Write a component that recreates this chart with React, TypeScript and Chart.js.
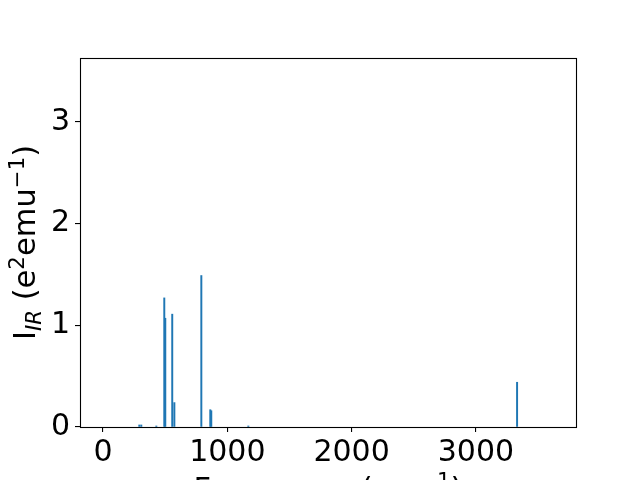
import React, { useEffect, useRef } from "react";
import { Chart, registerables } from "chart.js";

Chart.register(...registerables);

const frequencies = [292, 308, 429, 493, 501, 557, 574, 791, 863, 871, 1169, 3331];
const intensities = [0.02, 0.02, 0.01, 1.27, 1.07, 1.11, 0.24, 1.49, 0.17, 0.16, 0.01, 0.44];
const xTicks = [0, 1000, 2000, 3000];
const yTicks = [0, 1, 2, 3];
const xRange = [-185, 3805];
const yRange = [0, 3.63];

const FONT = "DejaVu Sans";
const FS = 30;
const LFS = 30.5;

type Seg = { t: string; s?: number; dy?: number; it?: boolean };

function drawRich(ctx: CanvasRenderingContext2D, segs: Seg[], size: number) {
  let total = 0;
  const ws = segs.map((g) => {
    ctx.font = `${g.it ? "italic " : ""}${size * (g.s || 1)}px "${FONT}"`;
    const w = ctx.measureText(g.t).width;
    total += w;
    return w;
  });
  let x = -total / 2;
  segs.forEach((g, i) => {
    ctx.font = `${g.it ? "italic " : ""}${size * (g.s || 1)}px "${FONT}"`;
    ctx.fillText(g.t, x, (g.dy || 0) * size);
    x += ws[i];
  });
}

const decor = {
  id: "decor",
  afterDraw(chart: any) {
    const { ctx, chartArea } = chart;
    ctx.save();
    ctx.strokeStyle = "#000";
    ctx.lineWidth = 1.1;
    ctx.strokeRect(
      Math.round(chartArea.left) + 0.5,
      Math.round(chartArea.top) + 0.5,
      Math.round(chartArea.right - chartArea.left),
      Math.round(chartArea.bottom - chartArea.top)
    );
    ctx.fillStyle = "#000";
    ctx.textBaseline = "alphabetic";
    ctx.textAlign = "left";
    ctx.save();
    ctx.translate((chartArea.left + chartArea.right) / 2, chartArea.bottom + 72);
    drawRich(
      ctx,
      [
        { t: "Frequency (cm" },
        { t: "−1", s: 0.7, dy: -0.36 },
        { t: ")" },
      ],
      LFS
    );
    ctx.restore();
    ctx.save();
    ctx.translate(35, (chartArea.top + chartArea.bottom) / 2);
    ctx.rotate(-Math.PI / 2);
    drawRich(
      ctx,
      [
        { t: "I" },
        { t: "IR", s: 0.7, dy: 0.2, it: true },
        { t: " (e" },
        { t: "2", s: 0.7, dy: -0.36 },
        { t: "emu" },
        { t: "−1", s: 0.7, dy: -0.36 },
        { t: ")" },
      ],
      LFS
    );
    ctx.restore();
    ctx.restore();
  },
};

export default function App() {
  const ref = useRef<HTMLCanvasElement>(null);
  useEffect(() => {
    document.body.style.margin = "0";
    const chart = new Chart(ref.current!, {
      type: "bar",
      data: {
        datasets: [
          {
            data: frequencies.map((f, i) => ({ x: f, y: intensities[i] })),
            backgroundColor: "#1f77b4",
            borderWidth: 0,
            barThickness: 1.3,
          },
        ],
      },
      options: {
        animation: false,
        responsive: false,
        devicePixelRatio: 1,
        layout: { padding: { top: 58, right: 64, left: 0, bottom: 0 } },
        plugins: { legend: { display: false }, tooltip: { enabled: false } },
        scales: {
          x: {
            type: "linear",
            min: xRange[0],
            max: xRange[1],
            offset: false,
            afterBuildTicks: (s: any) => {
              s.ticks = xTicks.map((v) => ({ value: v }));
            },
            afterFit: (s: any) => {
              s.height = 53;
            },
            grid: {
              offset: false,
              drawOnChartArea: false,
              drawTicks: true,
              tickLength: 5,
              tickColor: "#000",
              lineWidth: 1.1,
            },
            border: { display: false },
            ticks: {
              color: "#000",
              font: { family: FONT, size: FS },
              padding: 3,
              maxRotation: 0,
              autoSkip: false,
              callback: (v: any) => String(v),
            },
          },
          y: {
            min: yRange[0],
            max: yRange[1],
            afterBuildTicks: (s: any) => {
              s.ticks = yTicks.map((v) => ({ value: v }));
            },
            afterFit: (s: any) => {
              s.width = 80;
            },
            grid: {
              offset: false,
              drawOnChartArea: false,
              drawTicks: true,
              tickLength: 5,
              tickColor: "#000",
              lineWidth: 1.1,
            },
            border: { display: false },
            ticks: {
              color: "#000",
              font: { family: FONT, size: FS },
              padding: 5,
              autoSkip: false,
              callback: (v: any) => String(v),
            },
          },
        },
      },
      plugins: [decor],
    });
    return () => chart.destroy();
  }, []);
  return (
    <div style={{ position: "absolute", left: 0, top: 0, width: 640, height: 480, background: "#fff" }}>
      <canvas ref={ref} width={640} height={480} style={{ width: 640, height: 480 }} />
    </div>
  );
}
